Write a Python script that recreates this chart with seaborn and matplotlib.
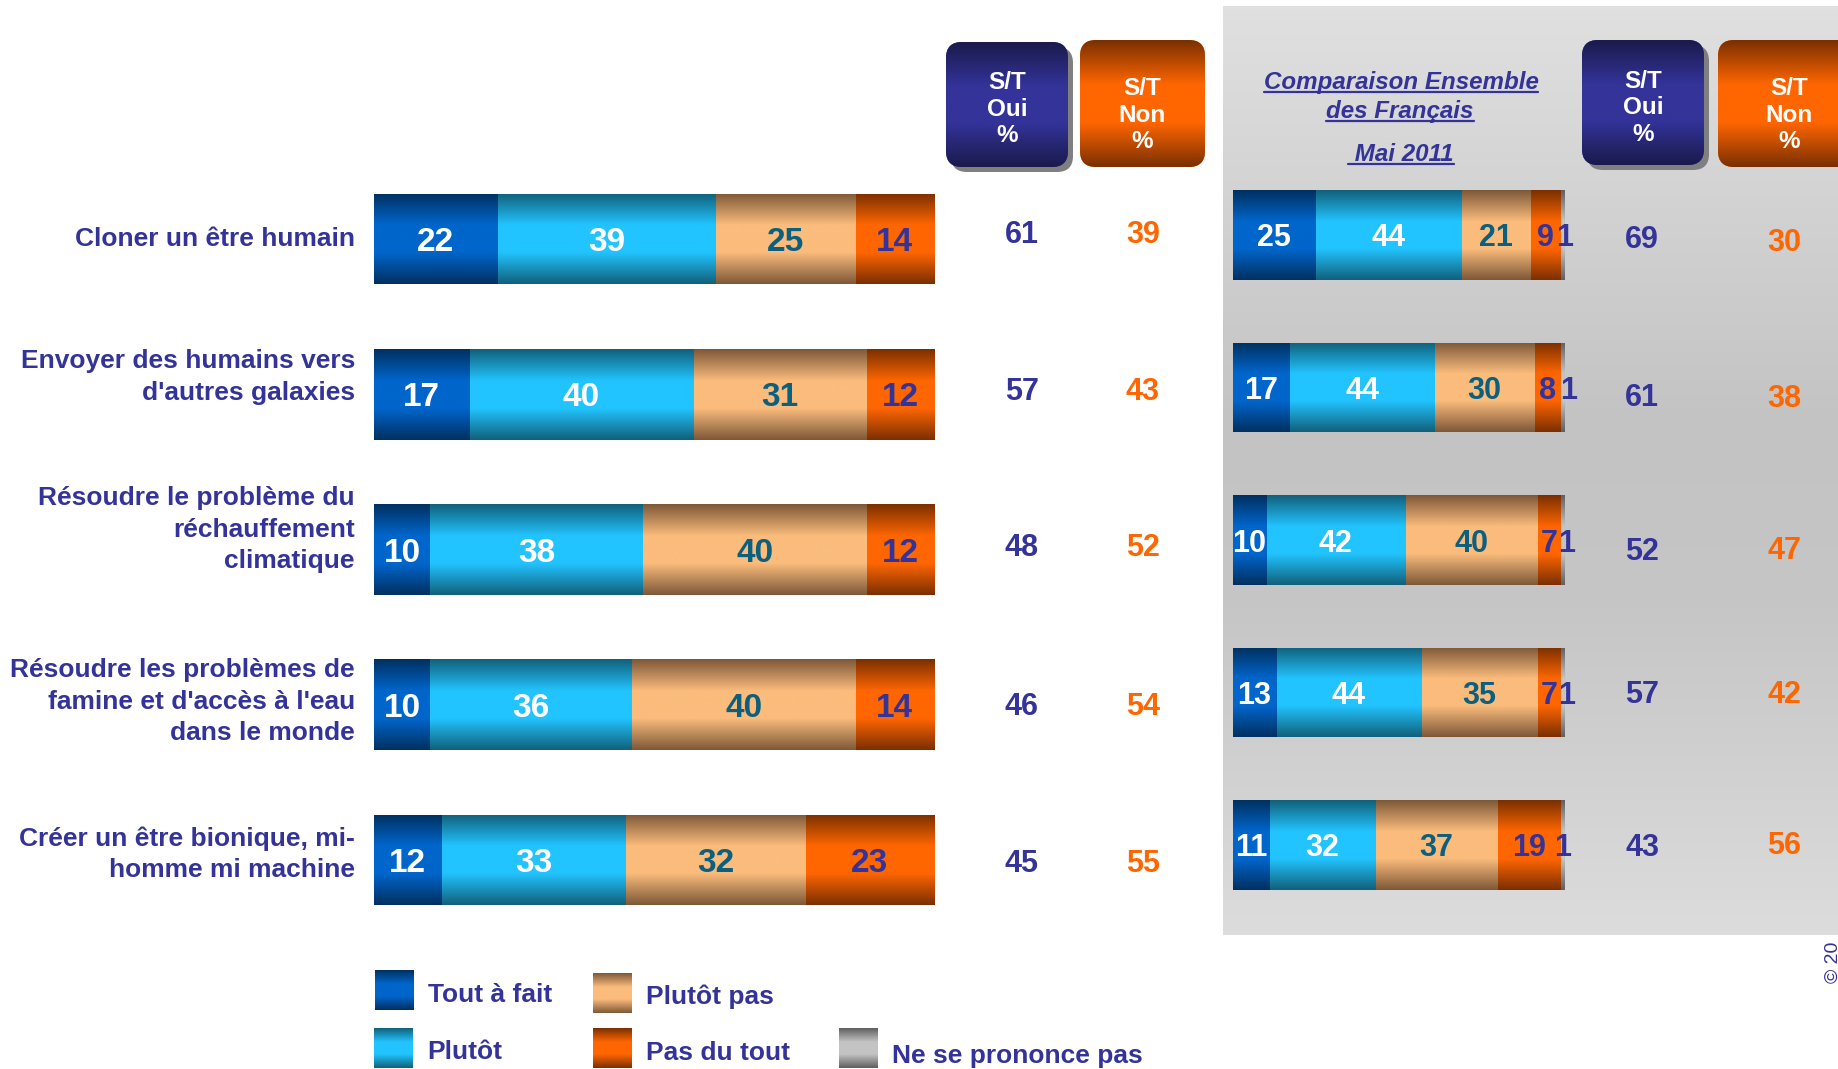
import numpy as np
import pandas as pd
import matplotlib
matplotlib.use('Agg')
import matplotlib.pyplot as plt
import seaborn as sns
from matplotlib.colors import LinearSegmentedColormap
from matplotlib.patches import FancyBboxPatch, Rectangle

sns.set_style('white')
plt.rcParams['font.family'] = ['Liberation Sans', 'DejaVu Sans']

# ---- data ----
categories = ["Cloner un être humain",
              "Envoyer des humains vers\nd'autres galaxies",
              "Résoudre le problème du\nréchauffement\nclimatique",
              "Résoudre les problèmes de\nfamine et d'accès à l'eau\ndans le monde",
              "Créer un être bionique, mi-\nhomme mi machine"]
answers = ["Tout à fait", "Plutôt", "Plutôt pas", "Pas du tout", "Ne se prononce pas"]

tout_a_fait = [22, 17, 10, 10, 12]
plutot = [39, 40, 38, 36, 33]
plutot_pas = [25, 31, 40, 40, 32]
pas_du_tout = [14, 12, 12, 14, 23]
st_oui = [61, 57, 48, 46, 45]
st_non = [39, 43, 52, 54, 55]

# comparaison ensemble des Français, mai 2011
tout_a_fait_2011 = [25, 17, 10, 13, 11]
plutot_2011 = [44, 44, 42, 44, 32]
plutot_pas_2011 = [21, 30, 40, 35, 37]
pas_du_tout_2011 = [9, 8, 7, 7, 19]
nsp_2011 = [1, 1, 1, 1, 1]
st_oui_2011 = [69, 61, 52, 57, 43]
st_non_2011 = [30, 38, 47, 42, 56]

# ---- styles ----
NAVY = '#333399'
ORANGE = '#ff6600'
grad = {"Tout à fait": ('#00305f', '#0066cc'),
        "Plutôt": ('#11607a', '#22c4ff'),
        "Plutôt pas": ('#7d5838', '#fbbc7c'),
        "Pas du tout": ('#7a2f00', '#ff6600'),
        "Ne se prononce pas": ('#5f5f5f', '#c4c4c4')}
txt_col = {"Tout à fait": 'white', "Plutôt": 'white', "Plutôt pas": '#0b5f7f',
           "Pas du tout": NAVY, "Ne se prononce pas": NAVY}
profile = np.linspace(0, 1, 256).reshape(-1, 1)


def cmap_of(edge, mid):
    return LinearSegmentedColormap.from_list('g', [(0, edge), (0.35, mid), (0.65, mid), (1, edge)])


W, H = 1838, 1069
fig = plt.figure(figsize=(W / 100, H / 100), dpi=100)
fig.patch.set_facecolor('white')

bg = fig.add_axes([0, 0, 1, 1])
bg.set_xlim(0, W)
bg.set_ylim(H, 0)
bg.axis('off')
bg.set_zorder(0)

# grey comparison panel
panel = LinearSegmentedColormap.from_list('p', [(0, '#e0e0e0'), (0.45, '#c3c3c3'), (0.65, '#c6c6c6'), (1, '#dcdcdc')])
bg.imshow(profile, cmap=panel, extent=(1223, W, 935, 6), aspect='auto', zorder=1)


def axes_at(x0, x1, yc0, yc4):
    step = (yc4 - yc0) / 4
    top, bottom = yc0 - step / 2, yc4 + step / 2
    a = fig.add_axes([x0 / W, 1 - bottom / H, (x1 - x0) / W, (bottom - top) / H])
    a.set_zorder(1)
    return a


def stacked(ax, parts, width, fs, nudge=None):
    df = pd.DataFrame(dict(zip(answers, parts)))
    names = list(df.columns)
    cum = df.cumsum(axis=1)
    z = 2
    for name in reversed(names):
        n0 = len(ax.patches)
        sns.barplot(x=cum[name].tolist(), y=categories, orient='h', color=grad[name][1],
                    width=width, errorbar=None, ax=ax)
        for p in ax.patches[n0:]:
            p.set_zorder(z)
            p.set_edgecolor('none')
            im = ax.imshow(profile, cmap=cmap_of(*grad[name]), aspect='auto', zorder=z + 0.5,
                           extent=(p.get_x(), p.get_x() + p.get_width(),
                                   p.get_y() + p.get_height(), p.get_y()))
            im.set_clip_path(p)
        z += 1
    for name in names:
        for i in range(len(categories)):
            v = df[name][i]
            dx = nudge[i] if (nudge and name == names[-1]) else 0
            ax.text(cum[name][i] - v / 2 + dx, i, str(v), ha='center', va='center_baseline',
                    fontsize=fs, fontweight='bold', color=txt_col[name], zorder=30)
    ax.set_xlim(0, 100)
    ax.set_ylim(4.5, -0.5)
    ax.axis('off')


ax_l = axes_at(374, 934, 239, 860)
stacked(ax_l, [tout_a_fait, plutot, plutot_pas, pas_du_tout], 0.586, 24)
ax_r = axes_at(1233, 1564, 235, 845)
stacked(ax_r, [tout_a_fait_2011, plutot_2011, plutot_pas_2011, pas_du_tout_2011, nsp_2011],
        0.584, 22, nudge=[0.6, 1.8, 1.2, 1.2, 0])

# category labels
label_shift = [0, -0.113, -0.128, -0.02, -0.038]
for i, lab in enumerate(categories):
    ax_l.text(-3.4, i + label_shift[i], lab, ha='right', va='center', fontsize=19,
              fontweight='bold', color=NAVY, linespacing=1.4, clip_on=False)

# S/T columns
shift_l = [-0.05, -0.04, -0.03, -0.01, 0]
shift_r_oui = [0.01, 0.046, 0.054, -0.008, 0]
shift_r_non = [0.027, 0.054, 0.046, -0.008, -0.015]
for i in range(len(categories)):
    ax_l.text(115.7, i + shift_l[i], str(st_oui[i]), ha='center', va='center_baseline',
              fontsize=22, fontweight='bold', color=NAVY, clip_on=False)
    ax_l.text(137.3, i + shift_l[i], str(st_non[i]), ha='center', va='center_baseline',
              fontsize=22, fontweight='bold', color=ORANGE, clip_on=False)
    ax_r.text(123.6, i + shift_r_oui[i], str(st_oui_2011[i]), ha='center', va='center_baseline',
              fontsize=22, fontweight='bold', color=NAVY, clip_on=False)
    ax_r.text(166.5, i + shift_r_non[i], str(st_non_2011[i]), ha='center', va='center_baseline',
              fontsize=22, fontweight='bold', color=ORANGE, clip_on=False)


# header boxes
def box(x0, y0, x1, y1, edge, mid, txt, ty, shadow):
    style = 'round,pad=0,rounding_size=16'
    if shadow:
        bg.add_patch(FancyBboxPatch((x0 + 5, y0 + 5), x1 - x0, y1 - y0, boxstyle=style,
                                    fc='#7f7f7f', ec='none', zorder=2))
    pb = FancyBboxPatch((x0, y0), x1 - x0, y1 - y0, boxstyle=style, fc=mid, ec='none', zorder=3)
    bg.add_patch(pb)
    im = bg.imshow(profile, cmap=cmap_of(edge, mid), extent=(x0, x1, y1, y0), aspect='auto', zorder=3.5)
    im.set_clip_path(pb)
    bg.text((x0 + x1) / 2, ty, txt, ha='center', va='center', fontsize=17.5, fontweight='bold',
            color='white', linespacing=1.2, zorder=4)


box(946, 42, 1068, 167, '#1a1a4c', NAVY, 'S/T\nOui\n%', 109, True)
box(1080, 40, 1205, 167, '#7a2f00', ORANGE, 'S/T\nNon\n%', 115, False)
box(1582, 40, 1704, 165, '#1a1a4c', NAVY, 'S/T\nOui\n%', 108, True)
box(1718, 40, 1860, 167, '#7a2f00', ORANGE, 'S/T\nNon\n%', 115, False)

# comparison title, underlined
heads = []
for s, x, yb in [('Comparaison Ensemble', 1401, 89), ('des Français', 1400, 118), (' Mai 2011', 1401, 161)]:
    heads.append((bg.text(x, yb, s, ha='center', va='baseline', fontsize=17.4, fontweight='bold',
                          fontstyle='italic', color=NAVY, zorder=4), yb))
fig.canvas.draw()
r = fig.canvas.get_renderer()
inv = bg.transData.inverted()
for t, yb in heads:
    bb = t.get_window_extent(r)
    xa = inv.transform((bb.x0, bb.y0))[0]
    xb = inv.transform((bb.x1, bb.y0))[0]
    bg.plot([xa, xb], [yb + 3, yb + 3], color=NAVY, lw=1.6, zorder=4)

# legend
leg_pos = {"Tout à fait": (375, 970, 995),
           "Plutôt": (374, 1028, 1052),
           "Plutôt pas": (593, 973, 997),
           "Pas du tout": (593, 1028, 1053),
           "Ne se prononce pas": (839, 1028, 1056)}
for name in answers:
    x0, y0, ty = leg_pos[name]
    rp = Rectangle((x0, y0), 39, 40, fc=grad[name][1], ec='none', zorder=3)
    bg.add_patch(rp)
    im = bg.imshow(profile, cmap=cmap_of(*grad[name]), extent=(x0, x0 + 39, y0 + 40, y0),
                   aspect='auto', zorder=3.5)
    im.set_clip_path(rp)
    bg.text(x0 + 53, ty, name, ha='left', va='center', fontsize=19, fontweight='bold',
            color=NAVY, zorder=4)

bg.text(1833, 962, '© 20', rotation=90, ha='center', va='center', fontsize=14, color=NAVY)
bg.set_xlim(0, W)
bg.set_ylim(H, 0)

fig.savefig('out.png', dpi=100)
